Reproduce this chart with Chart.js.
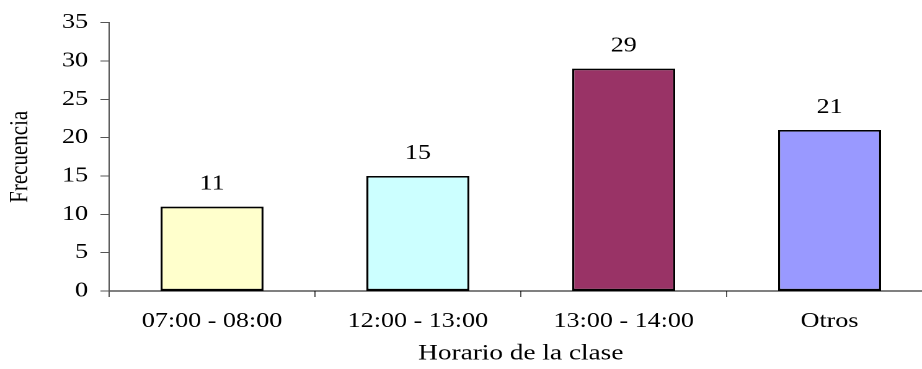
<!DOCTYPE html>
<html>
<head>
<meta charset="utf-8">
<script src="https://cdn.jsdelivr.net/npm/chart.js@4/dist/chart.umd.min.js"></script>
<style>
  html, body { margin: 0; padding: 0; background: #ffffff; overflow: hidden; width: 922px; height: 369px; }
  #wrap { width: 752px; height: 369px; transform: scaleX(1.24); transform-origin: 0 0; }
</style>
</head>
<body>
<div id="wrap"><canvas id="chart" width="752" height="369"></canvas></div>
<script>
// Class schedule frequencies
const categories = ['07:00 - 08:00', '12:00 - 13:00', '13:00 - 14:00', 'Otros'];
const frecuencia = [11, 15, 29, 21];
const barColors = ['#FFFFCC', '#CCFFFF', '#993366', '#9999FF'];
const yTicks = [0, 5, 10, 15, 20, 25, 30, 35];

const SERIF = "'Liberation Serif', 'Times New Roman', serif";
const FONT_SIZE = 21;

// Value labels printed above each bar
const valueLabels = {
  id: 'valueLabels',
  afterDatasetsDraw(chart) {
    const ctx = chart.ctx;
    ctx.save();
    ctx.font = FONT_SIZE + 'px ' + SERIF;
    ctx.fillStyle = '#000000';
    ctx.textAlign = 'center';
    ctx.textBaseline = 'alphabetic';
    chart.getDatasetMeta(0).data.forEach((bar, i) => {
      ctx.fillText(String(chart.data.datasets[0].data[i]), bar.x, bar.y - 17);
    });
    ctx.restore();
  }
};

new Chart(document.getElementById('chart'), {
  type: 'bar',
  data: {
    labels: categories,
    datasets: [{
      data: frecuencia,
      backgroundColor: barColors,
      borderColor: '#000000',
      borderWidth: 1.7,
      borderSkipped: false,
      barPercentage: 0.5,
      categoryPercentage: 1.0
    }]
  },
  options: {
    responsive: false,
    animation: false,
    devicePixelRatio: 2,
    layout: { padding: { top: 21, right: 0, bottom: 0, left: 0 } },
    plugins: {
      legend: { display: false },
      tooltip: { enabled: false }
    },
    scales: {
      x: {
        grid: { display: true, drawOnChartArea: false, drawTicks: true, tickLength: 6, color: '#555555', offset: true },
        border: { display: true, color: '#000000', width: 1 },
        ticks: { color: '#000000', padding: 12, font: { family: SERIF, size: FONT_SIZE }, maxRotation: 0, autoSkip: false },
        title: { display: true, text: 'Horario de la clase', color: '#000000', font: { family: SERIF, size: 22 }, padding: { top: 0, bottom: 2 } },
        afterFit(scale) { scale.height = 78; }
      },
      y: {
        min: 0,
        max: 35,
        afterBuildTicks(scale) { scale.ticks = yTicks.map(v => ({ value: v })); },
        grid: { display: true, drawOnChartArea: false, drawTicks: true, tickLength: 7, color: '#555555' },
        border: { display: true, color: '#555555', width: 1 },
        ticks: { color: '#000000', padding: 10, font: { family: SERIF, size: FONT_SIZE } },
        title: { display: true, text: 'Frecuencia', color: '#000000', font: { family: SERIF, size: FONT_SIZE }, padding: { top: 4, bottom: 0 } },
        afterFit(scale) { scale.width = 88; }
      }
    }
  },
  plugins: [valueLabels]
});
</script>
</body>
</html>
